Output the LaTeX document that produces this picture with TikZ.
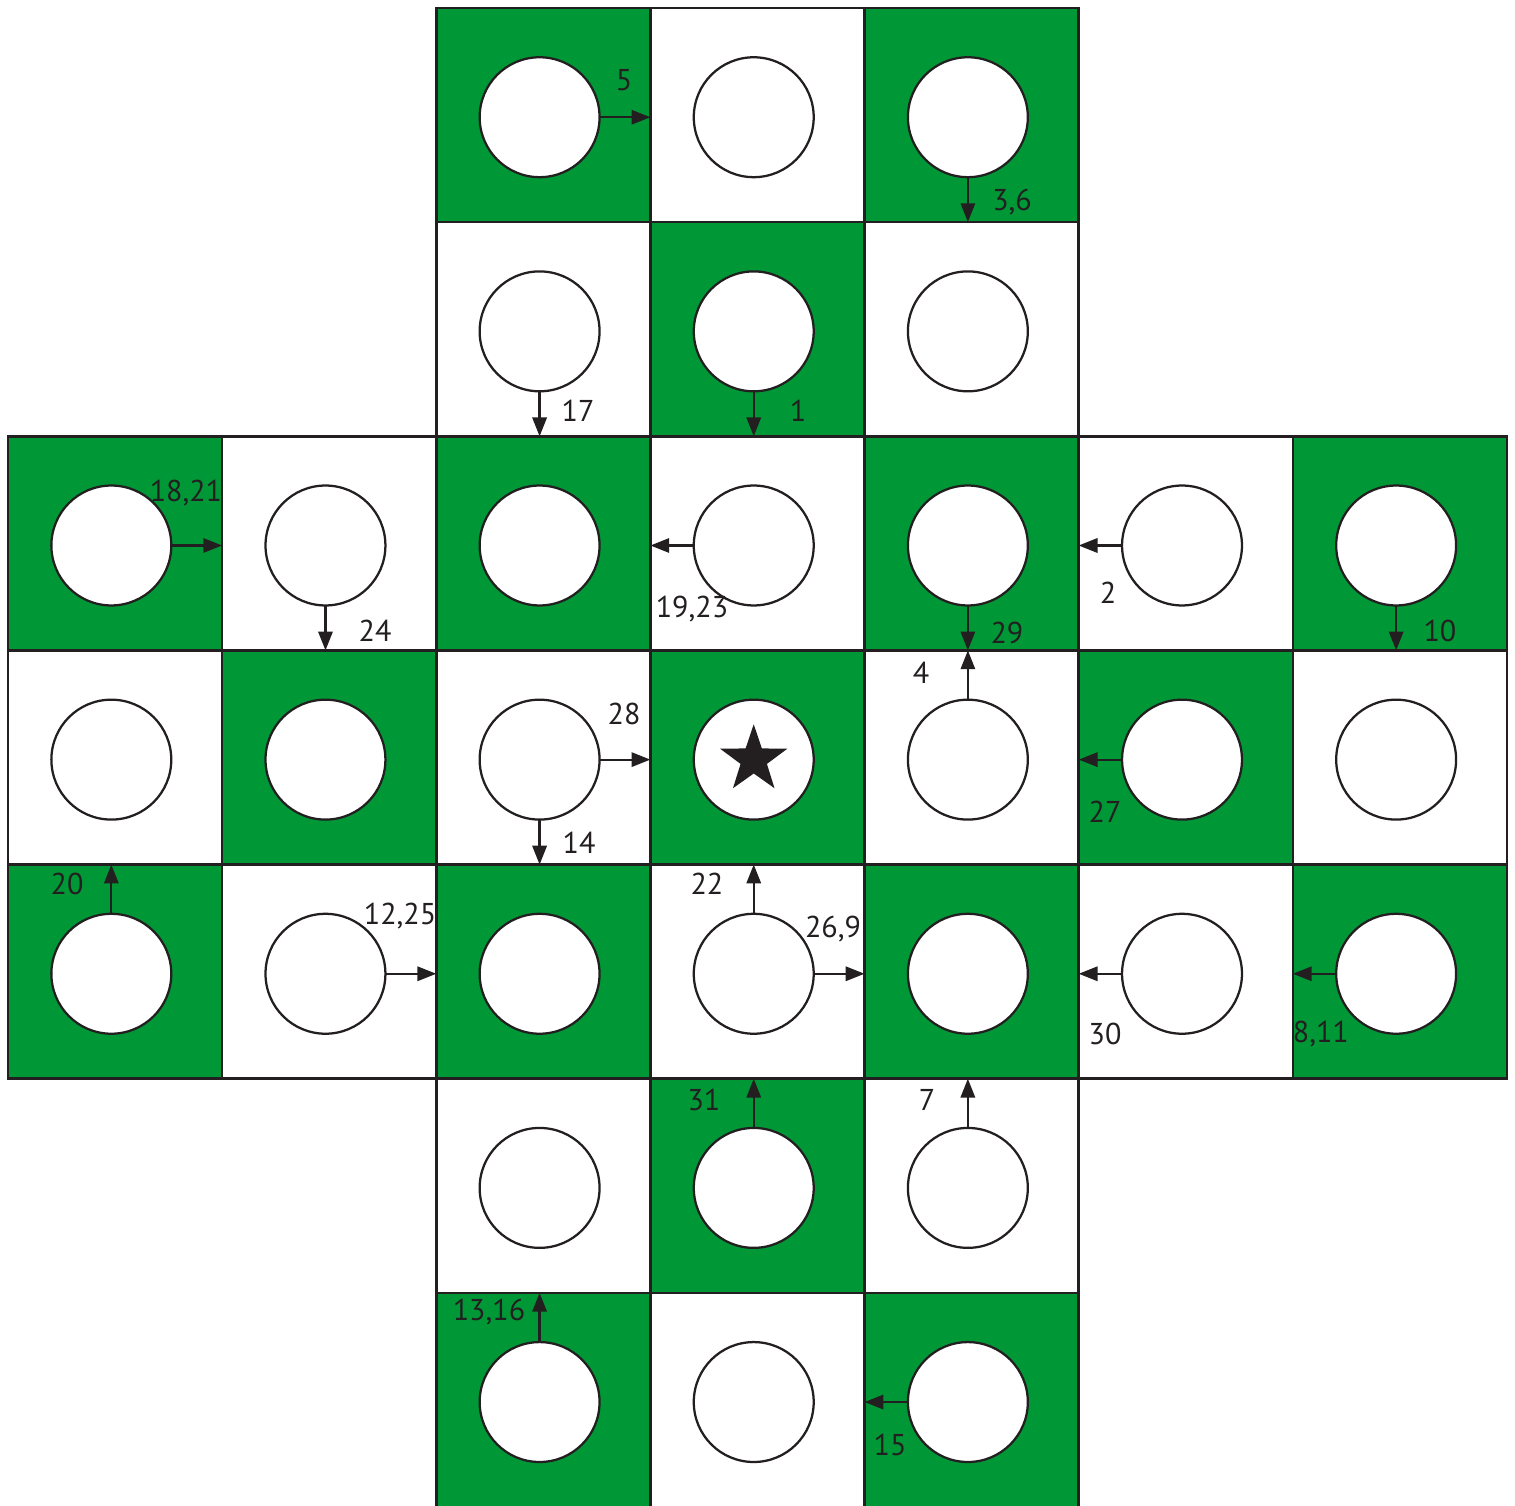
\documentclass[tikz,border=0pt]{standalone}
\usepackage{fontspec}
\setmainfont{PT Sans}
\usetikzlibrary{shapes.geometric,arrows.meta}

\definecolor{boardgreen}{RGB}{0,152,54}
\definecolor{ink}{RGB}{35,31,32}

\tikzset{
    square/.style={draw=ink, line width=0.7pt, rectangle, minimum size=2cm, inner sep=0pt, outer sep=0pt},
    hole/.style={draw=ink, line width=0.6pt, fill=white, circle, minimum size=1.12cm, inner sep=0pt, outer sep=0pt,
        xshift=-0.35mm, yshift=-0.2mm},
    jump/.style={draw=ink, line width=0.6pt, -{Triangle[length=5pt,width=3.8pt]}},
    movenr/.style={text=ink, font=\fontsize{8}{9.6}\selectfont, inner sep=0pt}
}

\begin{document}
\begin{tikzpicture}[x=2cm, y=2cm]
    \useasboundingbox (-0.0374,0.0374) rectangle (7.0375,-6.991);
    \clip (-0.0374,0.0374) rectangle (7.0375,-6.991);

    % Bàn cờ hình chữ thập
    \foreach \r in {0,...,6}{
        \foreach \c in {0,...,6}{
            \pgfmathtruncatemacro{\inboard}{(\r>1 && \r<5) || (\c>1 && \c<5)}
            \ifnum\inboard=1
                \pgfmathtruncatemacro{\odd}{mod(\r+\c,2)}
                \ifnum\odd=0 \def\sqcol{boardgreen}\else\def\sqcol{white}\fi
                \node[square, fill=\sqcol] (sq\r\c) at (\c+0.5,-\r-0.5) {};
                \node[hole] (h\r\c) at (\c+0.5,-\r-0.5) {};
            \fi
        }
    }

    % Lỗ ở giữa
    \node[star, star points=5, star point ratio=2.55, fill=ink, inner sep=0pt,
        minimum size=0.66cm] (goal) at (h33) {};

    % Các nước đi
    \draw[jump] (h02.east) -- (sq02.east |- h02.east);
    \draw[jump] (h04.south) -- (h04.south |- sq04.south);
    \draw[jump] (h12.south) -- (h12.south |- sq12.south);
    \draw[jump] (h13.south) -- (h13.south |- sq13.south);
    \draw[jump] (h20.east) -- (sq20.east |- h20.east);
    \draw[jump] (h21.south) -- (h21.south |- sq21.south);
    \draw[jump] (h23.west) -- (sq23.west |- h23.west);
    \draw[jump] (h24.south) -- (h24.south |- sq24.south);
    \draw[jump] (h25.west) -- (sq25.west |- h25.west);
    \draw[jump] (h26.south) -- (h26.south |- sq26.south);
    \draw[jump] (h32.east) -- (sq32.east |- h32.east);
    \draw[jump] (h32.south) -- (h32.south |- sq32.south);
    \draw[jump] (h34.north) -- (h34.north |- sq34.north);
    \draw[jump] (h35.west) -- (sq35.west |- h35.west);
    \draw[jump] (h40.north) -- (h40.north |- sq40.north);
    \draw[jump] (h41.east) -- (sq41.east |- h41.east);
    \draw[jump] (h43.north) -- (h43.north |- sq43.north);
    \draw[jump] (h43.east) -- (sq43.east |- h43.east);
    \draw[jump] (h45.west) -- (sq45.west |- h45.west);
    \draw[jump] (h46.west) -- (sq46.west |- h46.west);
    \draw[jump] (h53.north) -- (h53.north |- sq53.north);
    \draw[jump] (h54.north) -- (h54.north |- sq54.north);
    \draw[jump] (h62.north) -- (h62.north |- sq62.north);
    \draw[jump] (h64.west) -- (sq64.west |- h64.west);

    % Thứ tự nước đi
    \node[movenr] (n5) at (2.877,-0.336) {5};
    \node[movenr] (n36) at (4.689,-0.906) {3,6};
    \node[movenr] (n17) at (2.662,-1.882) {17};
    \node[movenr] (n1) at (3.689,-1.882) {1};
    \node[movenr] (n1821) at (0.831,-2.265) {18,21};
    \node[movenr] (n24) at (1.714,-2.909) {24};
    \node[movenr] (n1923) at (3.194,-2.807) {19,23};
    \node[movenr] (n2) at (5.137,-2.732) {2};
    \node[movenr] (n29) at (4.665,-2.919) {29};
    \node[movenr] (n10) at (6.687,-2.909) {10};
    \node[movenr] (n4) at (4.264,-3.105) {4};
    \node[movenr] (n28) at (2.877,-3.297) {28};
    \node[movenr] (n14) at (2.667,-3.899) {14};
    \node[movenr] (n27) at (5.123,-3.755) {27};
    \node[movenr] (n20) at (0.276,-4.091) {20};
    \node[movenr] (n1225) at (1.831,-4.240) {12,25};
    \node[movenr] (n22) at (3.264,-4.091) {22};
    \node[movenr] (n269) at (3.853,-4.301) {26,9};
    \node[movenr] (n30) at (5.123,-4.791) {30};
    \node[movenr] (n811) at (6.131,-4.791) {8,11};
    \node[movenr] (n31) at (3.250,-5.099) {31};
    \node[movenr] (n7) at (4.292,-5.099) {7};
    \node[movenr] (n1316) at (2.246,-6.089) {13,16};
    \node[movenr] (n15) at (4.119,-6.711) {15};
\end{tikzpicture}
\end{document}
